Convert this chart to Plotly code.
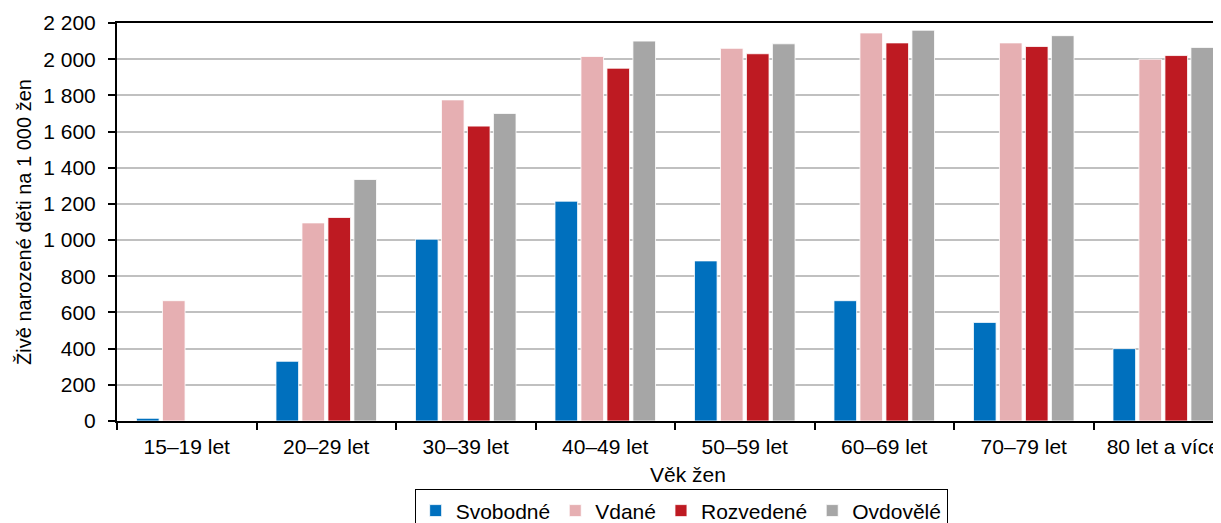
import plotly.graph_objects as go

categories = ["15–19 let", "20–29 let", "30–39 let", "40–49 let",
              "50–59 let", "60–69 let", "70–79 let", "80 let a více"]
svobodne = [15, 330, 1005, 1215, 885, 665, 545, 400]
vdane = [665, 1095, 1775, 2015, 2060, 2145, 2090, 2000]
rozvedene = [0, 1125, 1630, 1950, 2030, 2090, 2070, 2020]
ovdovele = [0, 1335, 1700, 2100, 2085, 2160, 2130, 2065]

series = [
    ("Svobodné", svobodne, "#0070BE"),
    ("Vdané", vdane, "#E6AFB2"),
    ("Rozvedené", rozvedene, "#BE1A22"),
    ("Ovdovělé", ovdovele, "#A6A6A6"),
]

font = "Liberation Sans, Arial, sans-serif"

fig = go.Figure()
for name, vals, col in series:
    fig.add_trace(go.Bar(
        x=categories, y=vals, name=name,
        marker=dict(color=col, line=dict(color="rgba(255,255,255,0.8)", width=1)),
    ))

# page body has an 8px margin; figure sized to fill the rest of the window
fig.update_layout(
    width=1213, height=515,
    margin=dict(l=109, r=0, t=15, b=102, autoexpand=False),
    paper_bgcolor="white", plot_bgcolor="white",
    barmode="group", bargap=0.255, bargroupgap=0.13,
    separators=", ",
    font=dict(family=font, size=21, color="black"),
    showlegend=True,
    legend=dict(
        orientation="h", x=0.511, xanchor="center", y=-0.172, yanchor="top",
        bordercolor="black", borderwidth=1, bgcolor="white",
        font=dict(size=21), traceorder="normal", itemwidth=30,
    ),
    annotations=[dict(
        text="Věk žen", xref="paper", yref="paper", x=0.517, y=-0.135,
        xanchor="center", yanchor="middle", showarrow=False, font=dict(size=21),
    )],
)

fig.update_xaxes(
    range=[-0.5, 7.414],
    showline=True, linecolor="black", linewidth=2, mirror=True,
    ticks="outside", tickson="boundaries", ticklen=7, tickwidth=2, tickcolor="black",
    showgrid=False,
    tickfont=dict(size=21), ticklabelstandoff=6,
)

fig.update_yaxes(
    range=[0, 2200],
    tickvals=list(range(0, 2201, 200)), tickformat=",d",
    showline=True, linecolor="black", linewidth=2,
    ticks="outside", ticklen=7, tickwidth=2, tickcolor="black",
    showgrid=True, gridcolor="#C0C0C0", gridwidth=2,
    zeroline=False,
    tickfont=dict(size=21), ticklabelstandoff=8,
    title=dict(text="Živě narozené děti na 1 000 žen", font=dict(size=20), standoff=6),
)

fig.write_html("out.html")
